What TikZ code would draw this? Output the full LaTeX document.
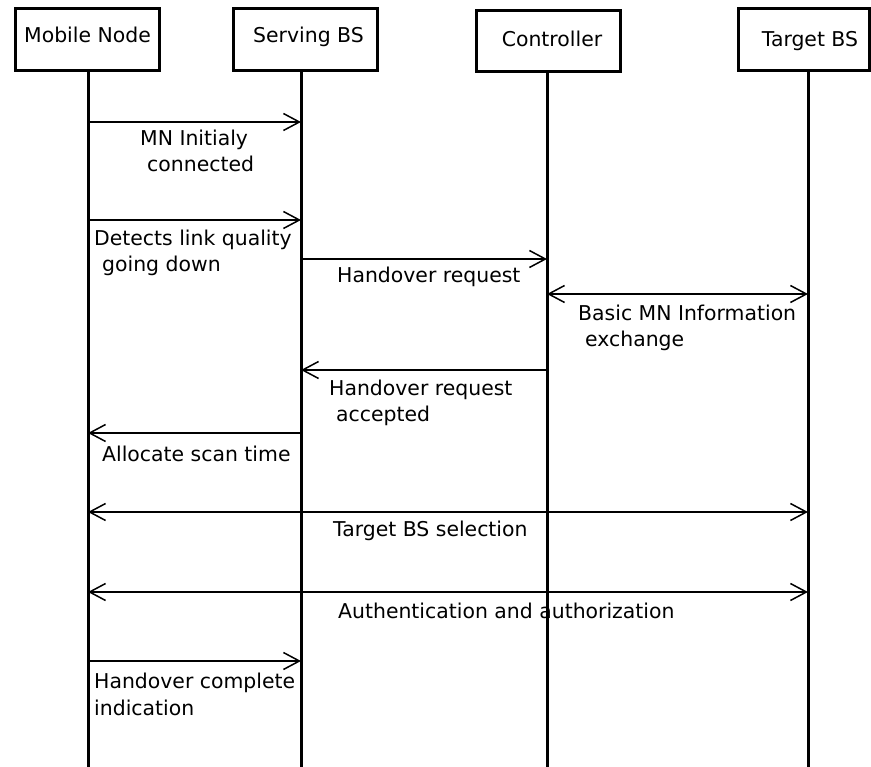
\documentclass[tikz,border=0pt]{standalone}
\usepackage{fontspec}
\setmainfont{DejaVu Sans}
\usetikzlibrary{arrows.meta}
\begin{document}
\begin{tikzpicture}[x=1pt,y=-1pt,
  every node/.style={font=\fontsize{20.4}{24}\selectfont},
  actor/.style={draw,line width=3pt,inner sep=0pt,minimum width=144pt,minimum height=61.4pt,text depth=5pt},
  life/.style={line width=3pt},
  msg/.style={line width=1.5pt,-{Straight Barb[length=16pt,width=17pt]}},
  msgboth/.style={line width=1.5pt,{Straight Barb[length=16pt,width=17pt]}-{Straight Barb[length=16pt,width=17pt]}},
  lbl/.style={inner sep=0pt,anchor=base west}]
\useasboundingbox (0,0) rectangle (871,767);
% actors
\node[actor,text height=12pt] (mn) at (87.5,39.5) {Mobile Node};
\node[actor,text height=12pt] (sb) at (305,39.5) {\hspace*{7pt}Serving BS};
\node[actor,text height=16pt] (ct) at (548.5,41.2) {\hspace*{7pt}Controller};
\node[actor,text height=19pt,minimum width=131pt] (tb) at (804,39.5) {\hspace*{12pt}Target BS};
% lifelines
\coordinate (mnT) at (88,71.7);  \coordinate (mnB) at (88,767);
\coordinate (sbT) at (301,71.7); \coordinate (sbB) at (301,767);
\coordinate (ctT) at (547,73.3); \coordinate (ctB) at (547,767);
\coordinate (tbT) at (808,71.7); \coordinate (tbB) at (808,767);
\draw[life] (mnT) -- (mnB);
\draw[life] (sbT) -- (sbB);
\draw[life] (ctT) -- (ctB);
\draw[life] (tbT) -- (tbB);
% messages
\draw[msg] (mnT |- 0,122) -- (sbT |- 0,122);
\node[lbl] (l1a) at (140,146) {MN Initialy};
\node[lbl] (l1b) at (147,172) {connected};
\draw[msg] (mnT |- 0,220) -- (sbT |- 0,220);
\node[lbl] (l2a) at (94,246) {Detects link quality};
\node[lbl] (l2b) at (102,272) {going down};
\draw[msg] (sbT |- 0,259) -- (ctT |- 0,259);
\node[lbl] (l3) at (337,283) {Handover request};
\draw[msgboth] (ctT |- 0,294) -- (tbT |- 0,294);
\node[lbl] (l4a) at (578,321) {Basic MN Information};
\node[lbl] (l4b) at (585,347) {exchange};
\draw[msg] (ctT |- 0,370) -- (sbT |- 0,370);
\node[lbl] (l5a) at (329,396) {Handover request};
\node[lbl] (l5b) at (336,422) {accepted};
\draw[msg] (sbT |- 0,433) -- (mnT |- 0,433);
\node[lbl] (l6) at (102,462) {Allocate scan time};
\draw[msgboth] (mnT |- 0,512) -- (tbT |- 0,512);
\node[lbl] (l7) at (333,536) {Target BS selection};
\draw[msgboth] (mnT |- 0,592) -- (tbT |- 0,592);
\node[lbl] (l8) at (338,618) {Authentication and authorization};
\draw[msg] (mnT |- 0,661) -- (sbT |- 0,661);
\node[lbl] (l9a) at (94,688) {Handover complete};
\node[lbl] (l9b) at (94,715) {indication};
\end{tikzpicture}
\end{document}
